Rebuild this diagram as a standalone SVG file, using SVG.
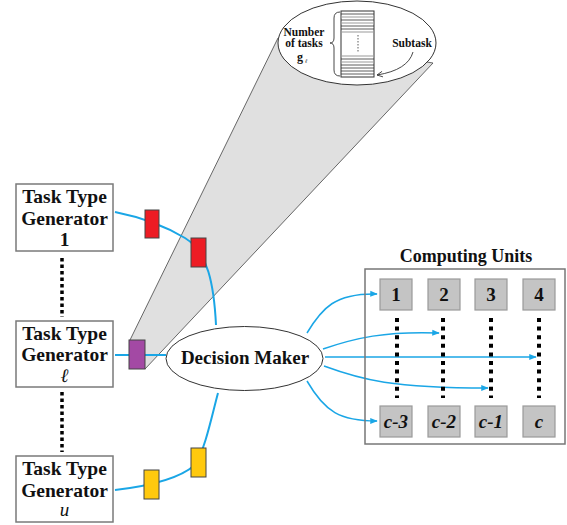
<svg xmlns="http://www.w3.org/2000/svg" width="567" height="525" viewBox="0 0 567 525">
<defs>
<style>
.gen{fill:#fff;stroke:#7a7a7a;stroke-width:1.5}
.t{font-family:"Liberation Serif",serif;font-weight:bold;fill:#111;text-anchor:middle}
.g{font-size:19.5px}
.blue{fill:none;stroke:#1aa6e6;stroke-width:2}
.blueA{fill:none;stroke:#1aa6e6;stroke-width:1.5;marker-end:url(#ah)}
.unit{fill:#c4c4c4;stroke:#9a9a9a;stroke-width:1.2}
.ut{font-size:19px}
.dots{stroke:#000;stroke-width:4;stroke-dasharray:4 4.6}
.gdots{stroke:#000;stroke-width:3.5;stroke-dasharray:3.5 3}
.pkt{stroke:#444;stroke-width:1}
.sl{stroke:#333;stroke-width:0.8}
.slg{stroke:#999;stroke-width:1.2}
</style>
<marker id="ah" viewBox="0 0 10 10" refX="9" refY="5" markerWidth="5" markerHeight="5" orient="auto" markerUnits="strokeWidth">
<path d="M0,1 L10,5 L0,9 z" fill="#1aa6e6"/>
</marker>
<marker id="oa" viewBox="0 0 10 10" refX="9" refY="5" markerWidth="7" markerHeight="7" orient="auto" markerUnits="userSpaceOnUse">
<path d="M1,1 L9,5 L1,9" fill="none" stroke="#333" stroke-width="1.2"/>
</marker>
</defs>
<rect width="567" height="525" fill="#fff"/>

<g id="zoom-cone">
<polygon points="130,340 278,38 433,63 145,369" fill="#e0e0e0" stroke="#444" stroke-width="0.8"/>
</g>

<g id="subtask-view">
<ellipse cx="357" cy="43" rx="79" ry="42" fill="#fff" stroke="#333" stroke-width="1"/>
<rect x="341" y="11" width="33" height="66" fill="#fff" stroke="#333" stroke-width="1"/>
<line class="sl" x1="341" y1="14" x2="374" y2="14"/>
<line class="slg" x1="341" y1="17" x2="374" y2="17"/>
<line class="sl" x1="341" y1="20" x2="374" y2="20"/>
<line class="slg" x1="341" y1="23" x2="374" y2="23"/>
<line class="sl" x1="341" y1="26" x2="374" y2="26"/>
<line class="sl" x1="341" y1="29" x2="374" y2="29"/>
<line class="slg" x1="341" y1="32" x2="374" y2="32"/>
<line x1="358" y1="35" x2="358" y2="53" stroke="#333" stroke-width="0.8" stroke-dasharray="1.5 1.5"/>
<line class="slg" x1="341" y1="56" x2="374" y2="56"/>
<line class="sl" x1="341" y1="59" x2="374" y2="59"/>
<line class="slg" x1="341" y1="62" x2="374" y2="62"/>
<line class="sl" x1="341" y1="65" x2="374" y2="65"/>
<line class="sl" x1="341" y1="68" x2="374" y2="68"/>
<line class="sl" x1="341" y1="71" x2="374" y2="71"/>
<line class="sl" x1="341" y1="74" x2="374" y2="74"/>
<path d="M340,12 Q334,12 334,18 L334,38 Q334,43 330,43 Q334,43 334,48 L334,70 Q334,76 340,76" fill="none" stroke="#333" stroke-width="0.9"/>
<text class="t" x="304" y="36" font-size="11.5">Number</text>
<text class="t" x="304" y="46.5" font-size="11.5">of tasks</text>
<text class="t" x="300" y="60.5" font-size="12" font-family="Liberation Sans,sans-serif">g</text>
<text x="305" y="63" font-size="5.5" font-style="italic" font-family="Liberation Serif,serif" fill="#111">ℓ</text>
<text class="t" x="412" y="47" font-size="11.5">Subtask</text>
<path d="M413,52 Q408,70 377,75" fill="none" stroke="#333" stroke-width="0.9" marker-end="url(#oa)"/>
</g>

<g id="connectors">
<path class="blue" d="M115,212 C140,217 165,226 185,238 C208,252 214,285 216,325"/>
<path class="blue" d="M115,355 L166,355"/>
<path class="blue" d="M115,490 C150,486 180,478 195,465 C205,450 212,415 218,393"/>
<path class="blueA" d="M307,333 C322,308 335,293 377,294"/>
<path class="blueA" d="M323,349 C355,338 385,331 439,333"/>
<path class="blueA" d="M325,357 L536,357"/>
<path class="blueA" d="M324,366 C362,380 392,388 488,388"/>
<path class="blueA" d="M307,381 C325,412 340,421 377,421"/>
</g>

<g id="packets">
<rect x="145" y="210" width="14" height="28" fill="#ed1c24" class="pkt"/>
<rect x="191" y="238" width="15" height="29" fill="#ed1c24" class="pkt"/>
<rect x="129" y="340" width="16" height="29" fill="#a349a4" class="pkt"/>
<rect x="191" y="448" width="15" height="29" fill="#ffc90e" class="pkt"/>
<rect x="144" y="470" width="15" height="29" fill="#ffc90e" class="pkt"/>
</g>

<g id="gen-1">
<rect class="gen" x="16" y="184" width="97" height="67"/>
<text class="t g" x="64.5" y="203">Task Type</text>
<text class="t g" x="64.5" y="225">Generator</text>
<text class="t g" x="64.5" y="246">1</text>
</g>
<g id="gen-dots">
<line class="gdots" x1="62" y1="258" x2="62" y2="317"/>
<line class="gdots" x1="62" y1="392" x2="62" y2="452"/>
</g>
<g id="gen-l">
<rect class="gen" x="16" y="321" width="97" height="66"/>
<text class="t g" x="64.5" y="340">Task Type</text>
<text class="t g" x="64.5" y="361">Generator</text>
<text x="64.5" y="382" font-family="Liberation Serif,serif" font-style="italic" font-size="19" text-anchor="middle" fill="#111">ℓ</text>
</g>
<g id="gen-u">
<rect class="gen" x="16" y="456" width="97" height="66"/>
<text class="t g" x="64.5" y="475">Task Type</text>
<text class="t g" x="64.5" y="497">Generator</text>
<text x="64.5" y="516" font-family="Liberation Serif,serif" font-style="italic" font-size="19" text-anchor="middle" fill="#111">u</text>
</g>

<g id="decision-maker">
<ellipse cx="244.5" cy="358.5" rx="78.5" ry="32" fill="#fff" stroke="#333" stroke-width="1"/>
<text class="t" x="245" y="364" font-size="19">Decision Maker</text>
</g>

<g id="computing-units">
<text class="t" x="466" y="262" font-size="18">Computing Units</text>
<rect x="365" y="269" width="200" height="175" fill="none" stroke="#777" stroke-width="1.5"/>
<line class="dots" x1="397" y1="318" x2="397" y2="398"/>
<line class="dots" x1="443" y1="318" x2="443" y2="398"/>
<line class="dots" x1="491" y1="318" x2="491" y2="398"/>
<line class="dots" x1="539" y1="318" x2="539" y2="398"/>
</g>
<g id="unit-1"><rect class="unit" x="380" y="279" width="32" height="31"/><text class="t ut" x="396" y="301">1</text></g>
<g id="unit-2"><rect class="unit" x="428" y="279" width="32" height="31"/><text class="t ut" x="444" y="301">2</text></g>
<g id="unit-3"><rect class="unit" x="475" y="279" width="32" height="31"/><text class="t ut" x="491" y="301">3</text></g>
<g id="unit-4"><rect class="unit" x="523" y="279" width="32" height="31"/><text class="t ut" x="539" y="301">4</text></g>
<g id="unit-c3"><rect class="unit" x="380" y="406" width="32" height="31"/><text class="t ut" x="396" y="428" font-style="italic">c-3</text></g>
<g id="unit-c2"><rect class="unit" x="428" y="406" width="32" height="31"/><text class="t ut" x="444" y="428" font-style="italic">c-2</text></g>
<g id="unit-c1"><rect class="unit" x="475" y="406" width="32" height="31"/><text class="t ut" x="491" y="428" font-style="italic">c-1</text></g>
<g id="unit-c"><rect class="unit" x="523" y="406" width="32" height="31"/><text class="t ut" x="539" y="428" font-style="italic">c</text></g>
</svg>
